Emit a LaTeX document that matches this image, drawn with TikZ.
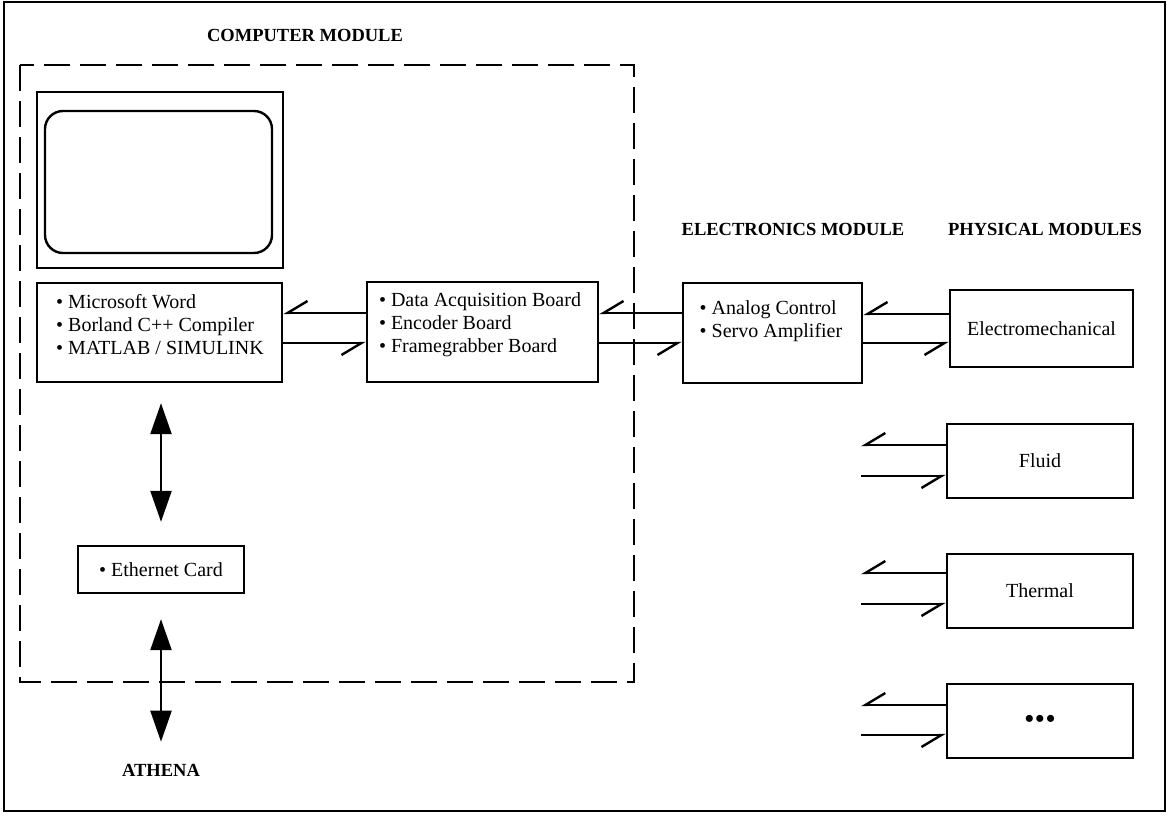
\documentclass[tikz,border=0pt]{standalone}
\usepackage{fontspec}
\setmainfont{Liberation Serif}
\usetikzlibrary{arrows.meta}
\begin{document}
\begin{tikzpicture}[x=1pt,y=-1pt,
  every node/.style={font=\fontsize{20}{23}\selectfont},
  box/.style={draw,line width=2.4pt,inner sep=0pt},
  txt/.style={align=left,inner sep=0pt},
  title/.style={inner sep=0pt,font=\fontsize{18.5}{22}\selectfont\bfseries},
  conn/.style={line width=2.4pt,-{Straight Barb[harpoon,swap,length=20pt,width=24pt,line width=2.4pt]}},
  dbl/.style={line width=2.4pt,{Triangle[length=31pt,width=21pt]}-{Triangle[length=31pt,width=21pt]}}]
\useasboundingbox (0,0) rectangle (1168,816);
\draw[line width=2.8pt] (4,2) rectangle (1165,811);

% titles
\node[title] (tcomp) at (305,35) {COMPUTER MODULE};
\node[title] (telec) at (793,229) {ELECTRONICS MODULE};
\node[title] (tphys) at (1045,229) {PHYSICAL MODULES};

% computer module frame
\draw[line width=2.8pt,dash pattern=on 26pt off 10pt] (20,65) rectangle (634,682);

% monitor
\node[box,minimum width=246pt,minimum height=176pt] (mon) at (160,180) {};
\node[box,rounded corners=18pt,minimum width=227pt,minimum height=142pt] (scr) at (158.5,182) {};

% boxes
\node[box,minimum width=245pt,minimum height=99pt] (sw) at (159.5,332.5) {};
\node[txt] (swt) at (160,325) {• Microsoft Word\\• Borland C++ Compiler\\• MATLAB / SIMULINK};

\node[box,minimum width=231pt,minimum height=100pt] (daq) at (482.5,332) {};
\node[txt] (daqt) at (480,325) {• Data Acquisition Board\\• Encoder Board\\• Framegrabber Board};

\node[box,minimum width=179pt,minimum height=100pt] (el) at (772.5,333) {};
\node[txt] (elt) at (771,321.5) {• Analog Control\\• Servo Amplifier};

\node[box,minimum width=183pt,minimum height=77pt] (em) at (1041.5,328.5) {Electromechanical};
\node[box,minimum width=186pt,minimum height=74pt] (fl) at (1040,461) {Fluid};
\node[box,minimum width=186pt,minimum height=74pt] (th) at (1040,591) {Thermal};
\node[box,minimum width=186pt,minimum height=74pt] (dt) at (1040,721) {\fontsize{26}{26}\selectfont\bfseries •\kern1.5pt•\kern1.5pt•};

\node[box,minimum width=166pt,minimum height=47pt] (eth) at (161,569.5) {• Ethernet Card};
\node[title] (ath) at (161,770) {ATHENA};

% connectors between boxes
\draw[conn] (daq.west |- 0,313) -- (sw.east |- 0,313);
\draw[conn] (sw.east |- 0,343) -- (daq.west |- 0,343);
\draw[conn] (el.west |- 0,313) -- (daq.east |- 0,313);
\draw[conn] (daq.east |- 0,343) -- (el.west |- 0,343);
\draw[conn] (em.west |- 0,314) -- (el.east |- 0,314);
\draw[conn] (el.east |- 0,343) -- (em.west |- 0,343);

% free-ended connectors of the other physical modules
\coordinate (f1) at (861,445); \coordinate (f2) at (861,476);
\coordinate (t1) at (861,573); \coordinate (t2) at (861,604);
\coordinate (d1) at (861,705); \coordinate (d2) at (861,735);
\draw[conn] (fl.west |- f1) -- (f1);
\draw[conn] (f2) -- (fl.west |- f2);
\draw[conn] (th.west |- t1) -- (t1);
\draw[conn] (t2) -- (th.west |- t2);
\draw[conn] (dt.west |- d1) -- (d1);
\draw[conn] (d2) -- (dt.west |- d2);

% network double arrows
\draw[dbl,shorten <=20pt,shorten >=23pt] (eth.north |- sw.south) -- (eth.north);
\draw[dbl,shorten <=25pt,shorten >=22pt] (eth.south) -- (ath.north);
\end{tikzpicture}
\end{document}
